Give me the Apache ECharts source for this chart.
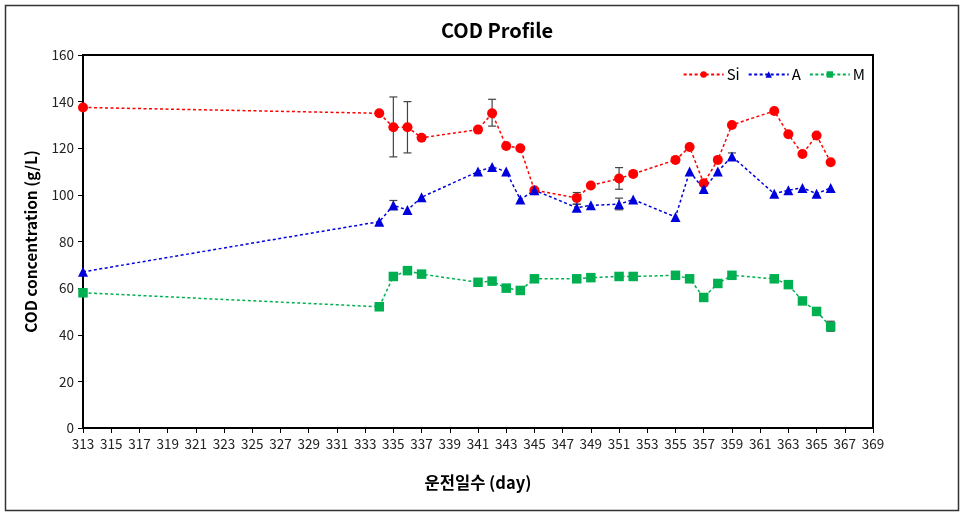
<!DOCTYPE html>
<html>
<head>
<meta charset="utf-8">
<script src="https://cdn.jsdelivr.net/npm/echarts@6/dist/echarts.min.js"></script>
<style>html,body{margin:0;padding:0;background:#fff}#c{width:960px;height:515px}</style>
</head>
<body>
<div id="c"></div>
<script>
var days = [313, 334, 335, 336, 337, 341, 342, 343, 344, 345, 348, 349, 351, 352, 355, 356, 357, 358, 359, 362, 363, 364, 365, 366];
var siValues = [137.5, 135, 129, 129, 124.5, 128, 135, 121, 120, 102, 98.7, 104, 107, 109, 115, 120.5, 105, 115, 130, 136, 126, 117.5, 125.5, 114];
var aValues = [67, 88.5, 95.5, 93.5, 99, 110, 112, 110, 98, 102, 94.5, 95.5, 96, 98, 90.5, 110, 102.5, 110, 116.5, 100.5, 102, 103, 100.5, 103];
var mValues = [58, 52, 65, 67.5, 66, 62.5, 63, 60, 59, 64, 64, 64.5, 65, 65, 65.5, 64, 56, 62, 65.5, 64, 61.5, 54.5, 50, 43.5];
// error bars: [day, low, high]
var siErrors = [[335, 116.3, 142], [336, 118, 140], [342, 129.5, 141], [348, 96, 101], [351, 102.4, 111.7]];
var aErrors = [[335, 93.6, 97.6], [348, 93, 96], [351, 93.6, 98.6], [359, 115, 118]];
var mErrors = [[366, 41.5, 45.8]];
var xTicks = {min: 313, max: 369, step: 2};
var yTicks = {min: 0, max: 160, step: 20};

function pairs(vals) { return days.map(function (d, i) { return [d, vals[i]]; }); }

function errSeries(errs) {
  return {
    type: 'custom',
    data: errs,
    z: 1,
    silent: true,
    renderItem: function (params, api) {
      var x = api.value(0), lo = api.value(1), hi = api.value(2);
      var pLo = api.coord([x, lo]), pHi = api.coord([x, hi]);
      var w = 4;
      var st = {stroke: '#444', lineWidth: 1.2};
      return {
        type: 'group',
        children: [
          {type: 'line', shape: {x1: pLo[0], y1: pLo[1], x2: pHi[0], y2: pHi[1]}, style: st},
          {type: 'line', shape: {x1: pLo[0] - w, y1: pLo[1], x2: pLo[0] + w, y2: pLo[1]}, style: st},
          {type: 'line', shape: {x1: pHi[0] - w, y1: pHi[1], x2: pHi[0] + w, y2: pHi[1]}, style: st}
        ]
      };
    }
  };
}

function lineSeries(name, vals, color, symbol, size) {
  return {
    name: name, type: 'line', data: pairs(vals), z: 3,
    symbol: symbol, symbolSize: size,
    lineStyle: {color: color, width: 1.5, type: [3, 2.5]},
    itemStyle: {color: color},
    emphasis: {disabled: true}
  };
}

var chart = echarts.init(document.getElementById('c'));
chart.setOption({
  animation: false,
  backgroundColor: '#fff',
  textStyle: {fontFamily: '"Noto Sans CJK KR", "Noto Sans", sans-serif'},
  graphic: [{
    type: 'rect', left: 3, top: 3, shape: {width: 953, height: 505},
    style: {fill: 'none', stroke: '#333', lineWidth: 1.5}, silent: true
  }],
  title: {
    text: 'COD Profile', left: 492, textAlign: 'center', top: 15,
    textStyle: {fontSize: 20, fontWeight: 'bold', color: '#000', fontFamily: '"Noto Sans CJK KR", sans-serif'}
  },
  legend: {
    right: 90, top: 62, itemGap: 8, itemWidth: 40, itemHeight: 8,
    textStyle: {fontSize: 15, color: '#000', padding: [0, 0, 0, -2]},
    data: ['Si', 'A', 'M']
  },
  grid: {left: 83, right: 87, top: 55, bottom: 87, show: true, borderColor: '#000', borderWidth: 2},
  xAxis: {
    type: 'value', min: xTicks.min, max: xTicks.max, interval: xTicks.step,
    name: '운전일수 (day)', nameLocation: 'middle', nameGap: 46,
    nameTextStyle: {fontSize: 16.5, fontWeight: 'bold', color: '#000'},
    axisLine: {onZero: false, lineStyle: {color: '#000', width: 2}},
    axisTick: {show: true, length: 5, lineStyle: {color: '#000'}},
    axisLabel: {fontSize: 13.5, color: '#222', margin: 9},
    splitLine: {show: false}
  },
  yAxis: {
    type: 'value', min: yTicks.min, max: yTicks.max, interval: yTicks.step,
    name: 'COD concentration (g/L)', nameLocation: 'middle', nameGap: 44,
    nameTextStyle: {fontSize: 15.5, fontWeight: 'bold', color: '#000'},
    axisLine: {show: true, lineStyle: {color: '#000', width: 2}},
    axisTick: {show: true, length: 5, lineStyle: {color: '#000'}},
    axisLabel: {fontSize: 13.5, color: '#222', margin: 9},
    splitLine: {show: false}
  },
  series: [
    errSeries(siErrors),
    errSeries(aErrors),
    errSeries(mErrors),
    lineSeries('Si', siValues, '#ff0000', 'circle', 10),
    lineSeries('A', aValues, '#0000dd', 'triangle', 10),
    lineSeries('M', mValues, '#00b050', 'rect', 9.5)
  ]
});
</script>
</body>
</html>
